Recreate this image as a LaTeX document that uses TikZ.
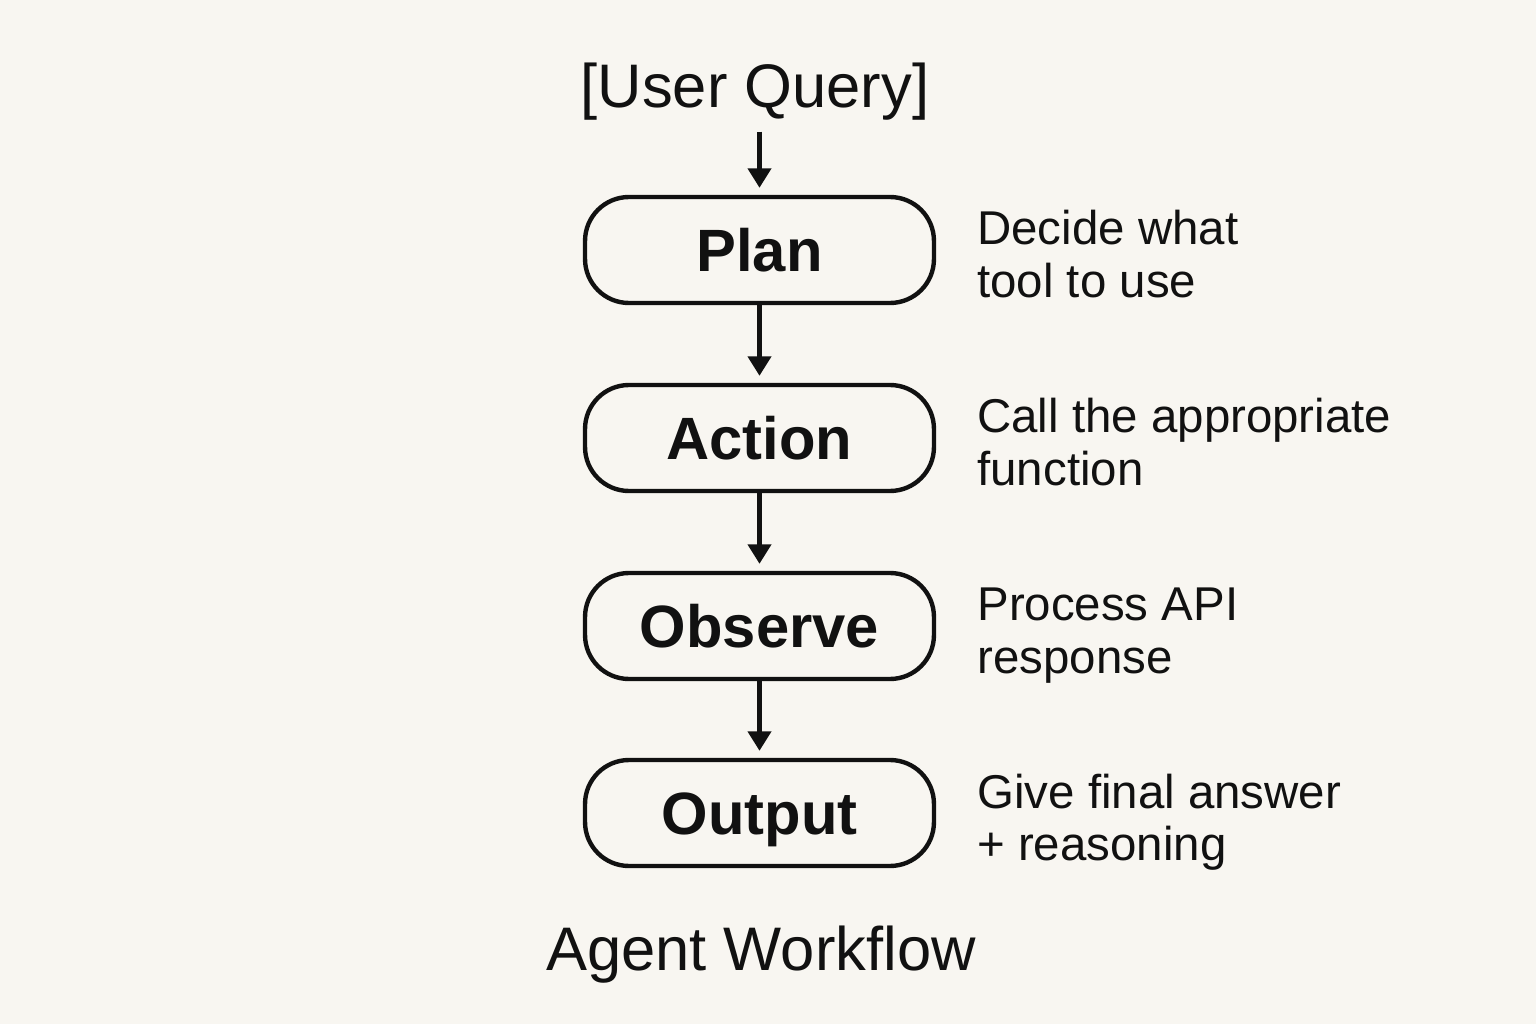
\documentclass[tikz,border=0pt]{standalone}
\usepackage{fontspec}
\setmainfont{Liberation Sans}
\usetikzlibrary{arrows.meta}
\definecolor{bgcol}{RGB}{248,246,241}
\definecolor{inkcol}{RGB}{17,17,17}
\tikzset{
  stepbox/.style={draw=inkcol, text=inkcol, line width=2.5pt, rounded corners=25pt, minimum width=6.98cm, minimum height=2.12cm, inner sep=0pt, text height=24.5pt, text depth=0pt, font=\fontsize{34}{40}\selectfont\bfseries},
  note/.style={anchor=base west, align=left, inner sep=0pt, text=inkcol, font=\fontsize{27}{29.6}\selectfont},
  flow/.style={draw=inkcol, line width=2.4pt, -{Triangle[length=11pt,width=13pt]}, shorten >=4pt},
}
\newcommand{\agentstep}[4]{\node[stepbox] (#1) at (759.5,#2) {#3}; \node[note] (#1note) at (977,#2+47) {#4};}

\begin{document}
\begin{tikzpicture}[x=0.02cm,y=-0.02cm]
        \fill[bgcol] (0,0) rectangle (1536,1024);
        % query
        \node[anchor=base, inner sep=6pt, text=inkcol, font=\fontsize{35}{40}\selectfont] (query) at (755,108) {[User Query]};
        % steps
        \agentstep{plan}{250}{Plan}{Decide what\\tool to use}
        \agentstep{action}{438}{Action}{Call the appropriate\\function}
        \agentstep{observe}{626}{Observe}{Process API\\response}
        \agentstep{output}{813}{Output}{Give final answer\\+ reasoning}
        % arrows
        \draw[flow] (query.south -| plan.north) -- (plan.north);
        \draw[flow] (plan) -- (action);
        \draw[flow] (action) -- (observe);
        \draw[flow] (observe) -- (output);
        % title
        \node[anchor=base, text=inkcol, font=\fontsize{35}{40}\selectfont] (title) at (761,970) {Agent Workflow};
\end{tikzpicture}
\end{document}
